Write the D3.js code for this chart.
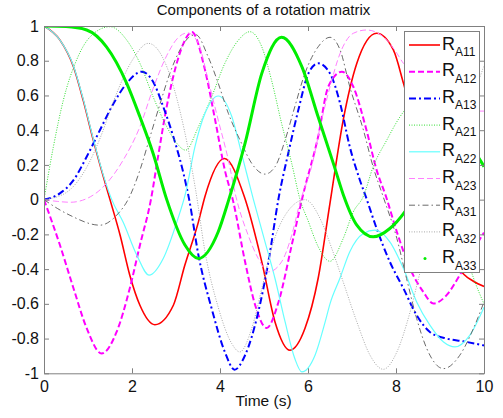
<!DOCTYPE html>
<html>
<head>
<meta charset="utf-8">
<script src="https://cdn.jsdelivr.net/npm/d3@7"></script>
<style>
body { margin: 0; background: #fff; }
svg { display: block; font-family: "Liberation Sans", Arial, sans-serif; }
</style>
</head>
<body>
<svg width="503" height="418"></svg>
<script>
// values, [time (s), value]
var r11 = [[0, 1], [0.36, 0.92], [0.67, 0.765], [0.89, 0.573], [1.12, 0.343], [1.35, 0.131], [1.5, 0], [1.73, -0.205], [1.95, -0.435], [2.18, -0.608], [2.52, -0.72], [2.94, -0.608], [3.2, -0.378], [3.51, -0.128], [3.66, 0.02], [4.1, 0.237], [4.55, 0.02], [4.95, -0.358], [5.25, -0.704], [5.59, -0.867], [5.93, -0.742], [6.23, -0.454], [6.5, -0.02], [6.8, 0.458], [7.11, 0.785], [7.56, 0.958], [7.94, 0.862], [8.17, 0.67], [8.5, 0.35], [8.8, 0.05], [9.08, -0.15], [9.45, -0.4], [9.76, -0.47], [10, -0.5]]
var r12 = [[0, 0], [0.36, -0.26], [0.67, -0.51], [0.97, -0.74], [1.31, -0.886], [1.65, -0.762], [1.95, -0.51], [2.18, -0.262], [2.43, 0], [2.6, 0.26], [2.8, 0.55], [3.0, 0.77], [3.17, 0.9], [3.36, 0.965], [3.66, 0.746], [3.89, 0.458], [4.11, 0.17], [4.3, -0.01], [4.57, -0.358], [4.8, -0.608], [5.06, -0.739], [5.33, -0.589], [5.63, -0.262], [5.88, 0.02], [6.23, 0.362], [6.46, 0.65], [6.77, 0.737], [7.03, 0.65], [7.33, 0.4], [7.56, 0.17], [7.77, 0.02], [8.02, -0.186], [8.32, -0.397], [8.62, -0.531], [8.85, -0.598], [9.15, -0.55], [9.45, -0.435], [9.95, -0.21], [10, -0.19]]
var r13 = [[0, 0], [0.36, 0.036], [0.67, 0.112], [0.97, 0.247], [1.27, 0.4], [1.58, 0.554], [1.88, 0.67], [2.22, 0.737], [2.48, 0.679], [2.71, 0.535], [2.94, 0.362], [3.17, 0.151], [3.3, 0], [3.51, -0.32], [3.81, -0.627], [4.11, -0.877], [4.33, -0.979], [4.57, -0.896], [4.87, -0.647], [5.1, -0.358], [5.34, 0.02], [5.55, 0.266], [5.78, 0.516], [6.01, 0.727], [6.23, 0.785], [6.5, 0.727], [6.73, 0.554], [6.95, 0.304], [7.18, 0.112], [7.31, 0.02], [7.56, -0.166], [7.86, -0.358], [8.17, -0.512], [8.47, -0.666], [8.77, -0.762], [9.15, -0.8], [9.53, -0.816], [10, -0.84]]
var r21 = [[0, 0], [0.21, 0.3], [0.44, 0.573], [0.74, 0.804], [1.05, 0.938], [1.5, 0.996], [1.88, 0.919], [2.18, 0.785], [2.48, 0.592], [2.79, 0.42], [3.02, 0.324], [3.22, 0.285], [3.51, 0.42], [3.81, 0.592], [4.11, 0.785], [4.42, 0.919], [4.68, 0.967], [4.95, 0.88], [5.17, 0.689], [5.4, 0.439], [5.63, 0.209], [5.82, 0], [6.0, -0.12], [6.23, -0.27], [6.5, -0.355], [6.8, -0.224], [7.03, -0.07], [7.26, 0.02], [7.48, 0.189], [7.79, 0.343], [8.09, 0.477], [8.2, 0.516], [8.5, 0.6], [8.8, 0.47], [9.08, 0.17], [9.45, -0.19], [9.76, -0.45], [10, -0.6]]
var r22 = [[0, 1], [0.36, 0.92], [0.67, 0.77], [0.89, 0.58], [1.12, 0.35], [1.35, 0.14], [1.54, 0], [1.8, -0.13], [2.11, -0.32], [2.39, -0.435], [2.71, -0.339], [3.02, -0.128], [3.22, 0.04], [3.43, 0.304], [3.66, 0.497], [3.96, 0.597], [4.27, 0.477], [4.49, 0.266], [4.76, 0], [5.02, -0.24], [5.25, -0.454], [5.48, -0.704], [5.7, -0.915], [5.86, -0.992], [6.16, -0.896], [6.39, -0.704], [6.5, -0.6], [6.73, -0.45], [6.95, -0.3], [7.26, -0.195], [7.52, -0.176], [7.86, -0.243], [8.17, -0.397], [8.47, -0.589], [8.77, -0.723], [9.08, -0.82], [9.34, -0.848], [9.68, -0.78], [10, -0.62]]
var r23 = [[0, 0], [0.3, -0.01], [0.6, -0.015], [1.05, 0.016], [1.42, 0.093], [1.8, 0.228], [2.18, 0.42], [2.48, 0.64], [2.79, 0.83], [3.02, 0.925], [3.26, 0.96], [3.51, 0.9], [3.73, 0.689], [3.96, 0.458], [4.19, 0.228], [4.36, 0.02], [4.64, -0.205], [4.87, -0.339], [5.1, -0.416], [5.4, -0.358], [5.63, -0.205], [5.82, -0.013], [6.08, 0.189], [6.31, 0.458], [6.5, 0.65], [6.73, 0.843], [7.03, 0.958], [7.33, 0.977], [7.71, 0.938], [8.02, 0.843], [8.17, 0.785], [8.47, 0.74], [8.77, 0.63], [9.15, 0.56], [9.53, 0.51], [10, 0.51]]
var r31 = [[0, 0], [0.3, -0.05], [0.59, -0.09], [1.27, -0.147], [1.65, -0.09], [1.95, 0.02], [2.18, 0.17], [2.41, 0.362], [2.64, 0.554], [2.86, 0.727], [3.09, 0.862], [3.32, 0.94], [3.45, 0.95], [3.73, 0.823], [3.96, 0.67], [4.19, 0.497], [4.49, 0.324], [4.72, 0.209], [5.02, 0.147], [5.25, 0.189], [5.48, 0.343], [5.7, 0.535], [5.93, 0.727], [6.23, 0.88], [6.5, 0.935], [6.73, 0.862], [6.95, 0.65], [7.26, 0.4], [7.48, 0.189], [7.71, 0.016], [8.02, -0.224], [8.24, -0.454], [8.47, -0.685], [8.7, -0.858], [9.08, -0.973], [9.45, -0.896], [9.76, -0.742], [10, -0.589]]
var r32 = [[0, 0], [0.5, 0.04], [1.0, 0.2], [1.3, 0.37], [1.6, 0.58], [2.0, 0.8], [2.37, 0.9], [2.8, 0.76], [3.1, 0.5], [3.45, 0.05], [3.66, -0.3], [3.96, -0.62], [4.27, -0.83], [4.45, -0.877], [4.72, -0.742], [4.95, -0.512], [5.17, -0.281], [5.48, -0.09], [5.93, 0], [6.31, -0.128], [6.54, -0.281], [6.8, -0.474], [7.11, -0.704], [7.41, -0.896], [7.71, -0.977], [8.02, -0.877], [8.32, -0.647], [8.55, -0.416], [8.8, -0.2], [9.1, 0.05], [9.45, 0.35], [9.76, 0.6], [10, 0.77]]
var r33 = [[0, 1], [0.5, 0.997], [0.97, 0.977], [1.42, 0.88], [1.88, 0.67], [2.18, 0.477], [2.48, 0.266], [2.79, 0], [3.2, -0.26], [3.51, -0.339], [3.96, -0.185], [4.2, 0], [4.57, 0.325], [4.95, 0.727], [5.4, 0.935], [5.86, 0.766], [6.23, 0.477], [6.6, 0.19], [6.8, 0.03], [7.11, -0.147], [7.48, -0.214], [7.86, -0.166], [8.2, -0.07], [8.6, 0.1], [9.0, 0.2], [9.4, 0.27], [9.7, 0.28], [10, 0.19]]

var names = ['A11', 'A12', 'A13', 'A21', 'A22', 'A23', 'A31', 'A32', 'A33']
var xTicks = [0, 2, 4, 6, 8, 10]
var yTicks = [-1, -0.8, -0.6, -0.4, -0.2, 0, 0.2, 0.4, 0.6, 0.8, 1]

var styles = [
    { color: '#ff0000', width: 1.6, dash: null },
    { color: '#ff00ff', width: 2, dash: '6,3' },
    { color: '#0000ff', width: 2, dash: '7,3,2,3' },
    { color: '#33dd33', width: 1, dash: '1,1.5' },
    { color: '#66ffff', width: 1.2, dash: null },
    { color: '#ff80ff', width: 1, dash: '6,3' },
    { color: '#6a6a6a', width: 1, dash: '6,3,1.5,3' },
    { color: '#a8a8a8', width: 1, dash: '1,1.5' },
    { color: '#00ee00', width: 3, dash: null }
]
var allData = [r11, r12, r13, r21, r22, r23, r31, r32, r33]

var svg = d3.select('svg')
var pLeft = 44, pRight = 484, pTop = 26, pBottom = 373.3

var x = d3.scaleLinear().domain([0, 10]).range([pLeft, pRight])
var y = d3.scaleLinear().domain([-1, 1]).range([pBottom, pTop])

svg.append('clipPath').attr('id', 'plot')
    .append('rect').attr('x', pLeft).attr('y', pTop)
    .attr('width', pRight - pLeft).attr('height', pBottom - pTop)

var line = d3.line()
    .x(d => x(d[0]))
    .y(d => y(d[1]))
    .curve(d3.curveMonotoneX)

// 曲线
svg.append('g').attr('clip-path', 'url(#plot)')
    .selectAll('path').data(allData).enter().append('path')
    .attr('d', line)
    .attr('fill', 'none')
    .attr('stroke', (_, i) => styles[i].color)
    .attr('stroke-width', (_, i) => styles[i].width)
    .attr('stroke-dasharray', (_, i) => styles[i].dash)
    .attr('stroke-linejoin', 'round')

// 坐标轴
var fmt = d => String(+d.toFixed(1))
var axisColor = '#808080'

function styleAxis(g) {
    g.select('.domain').attr('stroke', axisColor)
    g.selectAll('.tick line').attr('stroke', axisColor)
    g.selectAll('.tick text').attr('fill', '#111').style('font-size', '16px')
        .style('font-family', '"Liberation Sans", Arial, sans-serif')
}

svg.append('g').attr('transform', 'translate(0,' + pBottom + ')')
    .call(d3.axisBottom(x).tickValues(xTicks).tickFormat(fmt).tickSize(-5).tickSizeOuter(0).tickPadding(7))
    .call(styleAxis)
svg.append('g').attr('transform', 'translate(0,' + pTop + ')')
    .call(d3.axisTop(x).tickValues(xTicks).tickFormat('').tickSize(-5).tickSizeOuter(0))
    .call(styleAxis)
svg.append('g').attr('transform', 'translate(' + pLeft + ',0)')
    .call(d3.axisLeft(y).tickValues(yTicks).tickFormat(fmt).tickSize(-5).tickSizeOuter(0).tickPadding(5))
    .call(styleAxis)
svg.append('g').attr('transform', 'translate(' + pRight + ',0)')
    .call(d3.axisRight(y).tickValues(yTicks).tickFormat('').tickSize(-5).tickSizeOuter(0))
    .call(styleAxis)

// 标题
svg.append('text').attr('x', 263.5).attr('y', 15).attr('text-anchor', 'middle')
    .style('font-size', '15px').attr('fill', '#111')
    .text('Components of a rotation matrix')
svg.append('text').attr('x', 263.5).attr('y', 406).attr('text-anchor', 'middle')
    .style('font-size', '15.5px').attr('fill', '#111')
    .text('Time (s)')

// 图例
var lg = svg.append('g')
lg.append('rect').attr('x', 404.5).attr('y', 31.5).attr('width', 75).attr('height', 241)
    .attr('fill', '#fff').attr('stroke', '#808080')

var rows = lg.selectAll('g.row').data(names).enter().append('g')
    .attr('transform', (_, i) => 'translate(0,' + (45 + i * 26.7) + ')')

rows.filter((_, i) => i < 8).append('line')
    .attr('x1', 409).attr('x2', 440).attr('y1', 0).attr('y2', 0)
    .attr('stroke', (_, i) => styles[i].color)
    .attr('stroke-width', (_, i) => styles[i].width)
    .attr('stroke-dasharray', (_, i) => styles[i].dash)

rows.filter((_, i) => i === 8).append('circle')
    .attr('cx', 425).attr('cy', 0).attr('r', 1.5).attr('fill', styles[8].color)

var t = rows.append('text').attr('x', 442).attr('y', 4.5).attr('fill', '#111')
    .style('font-size', '18px')
t.append('tspan').text('R')
t.append('tspan').attr('dy', 6.5).style('font-size', '12px').text(d => d)
</script>
</body>
</html>
